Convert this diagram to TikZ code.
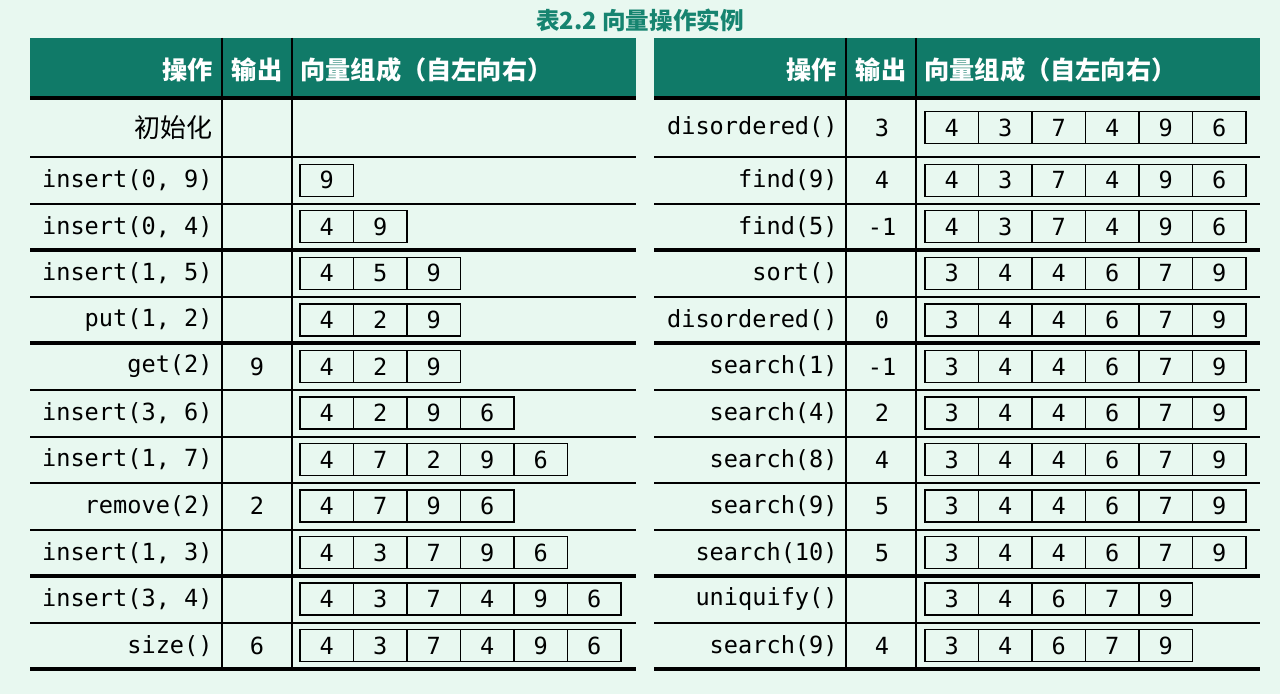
\documentclass[tikz,border=0pt]{standalone}
\usepackage{fontspec}
\setmonofont{DejaVu Sans Mono}
\newfontfamily\cjk{Noto Sans CJK SC}
\definecolor{bgmint}{HTML}{E8F8F0}
\definecolor{headteal}{HTML}{107A68}
\definecolor{titleteal}{HTML}{168470}
\tikzset{
  optext/.style={font=\fontsize{11.8}{14}\ttfamily, inner sep=0pt},
  cell/.style={draw, line width=0.7pt, minimum width=26.75pt, minimum height=16pt,
    inner sep=0pt, font=\fontsize{11.8}{14}\ttfamily},
  headtext/.style={text=white, font=\fontsize{12.6}{15}\cjk\bfseries, inner sep=0pt},
  thinrule/.style={line width=0.75pt},
  thickrule/.style={line width=1.6pt},
  heavyrule/.style={line width=2pt},
}
% eine Zeile: Name, Versatz der Tabelle, Zeilenmitte, Operation, Ausgabe, Vektor
\newcommand{\oprow}[6]{%
  \node[optext, anchor=east] (#1-op) at (#2+213,#3) {#4};
  \node[optext] (#1-out) at (#2+257,#3) {#5};
  \foreach \v [count=\i] in {#6} {
    \node[cell] (#1-c\i) at ({#2+300+(\i-0.5)*53.5},#3) {\v};
  }
}
\begin{document}
\begin{tikzpicture}[x=0.5pt,y=-0.5pt]
\fill[bgmint] (0,0) rectangle (1280,694);
\useasboundingbox (0,0) rectangle (1280,694);
\node[text=titleteal, font=\fontsize{11.8}{14}\cjk\bfseries] (title) at (640,20) {表2.2 向量操作实例};
% Tabellenrahmen
\foreach \s in {0,624} {
  \fill[headteal] (\s+30,38) rectangle (\s+636,98);
  \foreach \y in {157,204,297,390,437,483,530,623}
    \draw[thinrule] (\s+30,\y) -- (\s+636,\y);
  \foreach \y in {250,343,576}
    \draw[thickrule] (\s+30,\y) -- (\s+636,\y);
  \draw[heavyrule] (\s+30,98) -- (\s+636,98);
  \draw[heavyrule] (\s+30,669) -- (\s+636,669);
  \draw[line width=0.6pt] (\s+222,38) -- (\s+222,669);
  \draw[line width=1.2pt] (\s+292,38) -- (\s+292,669);
  \node[headtext, anchor=east] at (\s+213,70) {操作};
  \node[headtext] at (\s+257,70) {输出};
  \node[headtext, anchor=west] at (\s+300,70) {向量组成（自左向右）};
}
% linke Tabelle
\node[font=\fontsize{13}{15}\cjk, inner sep=0pt, anchor=east] (L0-op) at (213,127.5) {初始化};
\oprow{L1}{0}{180.3}{insert(0, 9)}{}{9}
\oprow{L2}{0}{226.8}{insert(0, 4)}{}{4,9}
\oprow{L3}{0}{273.4}{insert(1, 5)}{}{4,5,9}
\oprow{L4}{0}{319.9}{put(1, 2)}{}{4,2,9}
\oprow{L5}{0}{366.5}{get(2)}{9}{4,2,9}
\oprow{L6}{0}{413.0}{insert(3, 6)}{}{4,2,9,6}
\oprow{L7}{0}{459.6}{insert(1, 7)}{}{4,7,2,9,6}
\oprow{L8}{0}{506.1}{remove(2)}{2}{4,7,9,6}
\oprow{L9}{0}{552.7}{insert(1, 3)}{}{4,3,7,9,6}
\oprow{L10}{0}{599.2}{insert(3, 4)}{}{4,3,7,4,9,6}
\oprow{L11}{0}{645.8}{size()}{6}{4,3,7,4,9,6}
% rechte Tabelle
\oprow{R0}{625}{127.5}{disordered()}{3}{4,3,7,4,9,6}
\oprow{R1}{625}{180.3}{find(9)}{4}{4,3,7,4,9,6}
\oprow{R2}{625}{226.8}{find(5)}{-1}{4,3,7,4,9,6}
\oprow{R3}{625}{273.4}{sort()}{}{3,4,4,6,7,9}
\oprow{R4}{625}{319.9}{disordered()}{0}{3,4,4,6,7,9}
\oprow{R5}{625}{366.5}{search(1)}{-1}{3,4,4,6,7,9}
\oprow{R6}{625}{413.0}{search(4)}{2}{3,4,4,6,7,9}
\oprow{R7}{625}{459.6}{search(8)}{4}{3,4,4,6,7,9}
\oprow{R8}{625}{506.1}{search(9)}{5}{3,4,4,6,7,9}
\oprow{R9}{625}{552.7}{search(10)}{5}{3,4,4,6,7,9}
\oprow{R10}{625}{599.2}{uniquify()}{}{3,4,6,7,9}
\oprow{R11}{625}{645.8}{search(9)}{4}{3,4,6,7,9}
\end{tikzpicture}
\end{document}
